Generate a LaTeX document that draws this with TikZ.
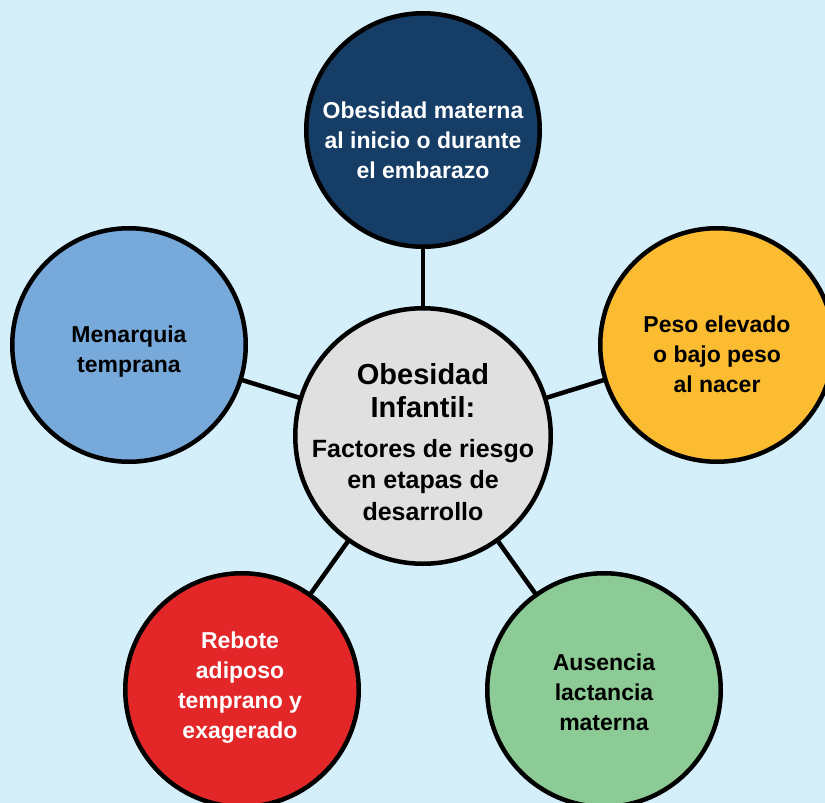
\documentclass[tikz,border=0pt]{standalone}
\usepackage{fontspec}
\setmainfont{Liberation Sans}
\definecolor{bgc}{HTML}{D4EEFA}
\definecolor{navy}{HTML}{163D66}
\definecolor{gold}{HTML}{FCBC31}
\definecolor{skyb}{HTML}{77A9DB}
\definecolor{redc}{HTML}{E32729}
\definecolor{greenc}{HTML}{8CCB95}
\definecolor{greyc}{HTML}{E0E0E0}
\tikzset{
  bubble/.style={circle, draw=black, line width=4.5pt, minimum size=233.5pt, inner sep=0pt},
  hub/.style={circle, draw=black, line width=4.5pt, minimum size=255.5pt, inner sep=0pt, fill=greyc},
  txt/.style={align=center, font=\fontsize{23}{30}\selectfont\bfseries},
  link/.style={line width=4.5pt, draw=black}
}
\begin{document}
\begin{tikzpicture}[x=1pt,y=-1pt]
\useasboundingbox (0,0) rectangle (825,803);
\fill[bgc] (0,0) rectangle (825,803);
\clip (0,0) rectangle (825,803);
\coordinate (pc) at (423,436);
\coordinate (pt) at (423,130);
\coordinate (pr) at (717,345);
\coordinate (pl) at (129,345);
\coordinate (pbl) at (242,690);
\coordinate (pbr) at (604,690);
\draw[link] (pc) -- (pt);
\draw[link] (pc) -- (pr);
\draw[link] (pc) -- (pl);
\draw[link] (pc) -- (pbl);
\draw[link] (pc) -- (pbr);
\node[hub] (c) at (pc) {};
\node[bubble, fill=navy] (t) at (pt) {};
\node[bubble, fill=gold] (r) at (pr) {};
\node[bubble, fill=skyb] (l) at (pl) {};
\node[bubble, fill=redc] (bl) at (pbl) {};
\node[bubble, fill=greenc] (br) at (pbr) {};
\node[txt, text=white] (tt) at ([yshift=-10pt]t.center) {Obesidad materna\\al inicio o durante\\el embarazo};
\node[txt, text=black] (rt) at ([yshift=-9pt]r.center) {Peso elevado\\o bajo peso\\al nacer};
\node[txt, text=black] (lt) at ([yshift=-7pt]l.center) {Menarquia\\temprana};
\node[txt, text=white] (blt) at ([xshift=-2pt,yshift=2pt]bl.center) {Rebote\\adiposo\\temprano y\\exagerado};
\node[txt, text=black] (brt) at ([yshift=-2pt]br.center) {Ausencia\\lactancia\\materna};
\node[align=center, font=\fontsize{25}{30}\selectfont\bfseries] (ct) at ([yshift=-6pt]c.center)
  {\fontsize{29}{33}\selectfont Obesidad\\[3pt]\fontsize{29}{33}\selectfont Infantil:\\[10pt]Factores de riesgo\\[1.5pt]en etapas de\\[1.5pt]desarrollo};
\end{tikzpicture}
\end{document}
